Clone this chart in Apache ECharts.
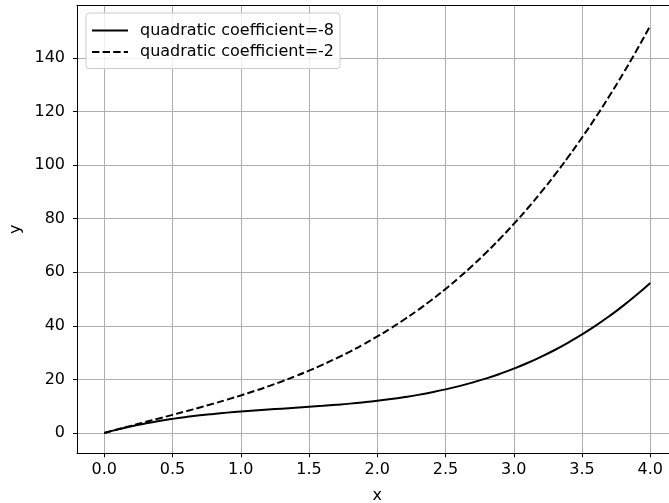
<!DOCTYPE html>
<html>
<head>
<meta charset="utf-8">
<script src="https://cdn.jsdelivr.net/npm/echarts@6/dist/echarts.min.js"></script>
<style>
  html, body { margin: 0; padding: 0; background: #fff; overflow: hidden; }
  #chart { width: 700px; height: 503px; }
</style>
</head>
<body>
<div id="chart"></div>
<script>
// Sample positions along x
const xs = [0.0, 0.1, 0.2, 0.3, 0.4, 0.5, 0.6, 0.7, 0.8, 0.9,
            1.0, 1.1, 1.2, 1.3, 1.4, 1.5, 1.6, 1.7, 1.8, 1.9,
            2.0, 2.1, 2.2, 2.3, 2.4, 2.5, 2.6, 2.7, 2.8, 2.9,
            3.0, 3.1, 3.2, 3.3, 3.4, 3.5, 3.6, 3.7, 3.8, 3.9, 4.0];

// Curve with quadratic coefficient -8
const ySolid = [0.0, 1.32, 2.50, 3.53, 4.45, 5.25, 5.95, 6.57, 7.10, 7.58,
                8.00, 8.38, 8.74, 9.07, 9.41, 9.75, 10.11, 10.51, 10.94, 11.44,
                12.00, 12.64, 13.38, 14.21, 15.17, 16.25, 17.47, 18.85, 20.38, 22.10,
                24.00, 26.10, 28.42, 30.95, 33.73, 36.75, 40.03, 43.59, 47.42, 51.56, 56.00];

// Curve with quadratic coefficient -2
const yDashed = [0.0, 1.38, 2.74, 4.07, 5.41, 6.75, 8.11, 9.51, 10.94, 12.44,
                 14.00, 15.64, 17.38, 19.21, 21.17, 23.25, 25.47, 27.85, 30.38, 33.10,
                 36.00, 39.10, 42.42, 45.95, 49.73, 53.75, 58.03, 62.59, 67.42, 72.56,
                 78.00, 83.76, 89.86, 96.29, 103.09, 110.25, 117.79, 125.73, 134.06, 142.82, 152.00];

const seriesNames = ['quadratic coefficient=-8', 'quadratic coefficient=-2'];
const xTicks = [0, 0.5, 1, 1.5, 2, 2.5, 3, 3.5, 4];
const yTicks = [0, 20, 40, 60, 80, 100, 120, 140];

const FONT = 'DejaVu Sans';
const FS = 16;
const GRID_COLOR = '#b0b0b0';
const pairs = (ys) => xs.map((x, i) => [x, ys[i]]);

const chart = echarts.init(document.getElementById('chart'), null, { renderer: 'canvas' });

chart.setOption({
  animation: false,
  backgroundColor: '#fff',
  textStyle: { fontFamily: FONT },
  grid: {
    left: 77, top: 5.3, width: 600.6, height: 448,
    outerBoundsMode: 'none', containLabel: false, show: false
  },
  legend: {
    orient: 'vertical',
    left: 86, top: 13, z: 20,
    itemWidth: 36, itemHeight: 14, itemGap: 4.5,
    padding: [9, 6, 8, 5],
    borderColor: '#cccccc', borderWidth: 1, borderRadius: 3,
    backgroundColor: 'rgba(255,255,255,0.8)',
    itemStyle: { opacity: 0 },
    textStyle: { fontFamily: FONT, fontSize: FS, lineHeight: 17, color: '#000', padding: [0, 0, 0, 7] },
    data: seriesNames
  },
  xAxis: [
    {
      type: 'value', min: -0.2, max: 4.2,
      name: 'x', nameLocation: 'middle', nameGap: 35,
      nameTextStyle: { fontFamily: FONT, fontSize: FS, color: '#000' },
      axisLine: { show: true, onZero: false, lineStyle: { color: '#000', width: 1 } },
      axisTick: { show: true, length: 4, lineStyle: { color: '#000', width: 1 },
                  customValues: xTicks },
      axisLabel: {
        fontFamily: FONT, fontSize: FS, color: '#000', margin: 9,
        customValues: xTicks,
        formatter: (v) => v.toFixed(1)
      },
      splitLine: { show: false }
    },
    {
      // top spine
      type: 'value', position: 'top', min: -0.2, max: 4.2,
      axisLine: { show: true, onZero: false, lineStyle: { color: '#000', width: 1 } },
      axisTick: { show: false }, axisLabel: { show: false }, splitLine: { show: false }
    }
  ],
  yAxis: {
    type: 'value', min: -7.6, max: 159.6,
    name: 'y', nameLocation: 'middle', nameGap: 41,
    nameTextStyle: { fontFamily: FONT, fontSize: FS, color: '#000' },
    axisLine: { show: true, onZero: false, lineStyle: { color: '#000', width: 1 } },
    axisTick: { show: true, length: 4, lineStyle: { color: '#000', width: 1 },
                customValues: yTicks },
    axisLabel: {
      fontFamily: FONT, fontSize: FS, color: '#000', margin: 12,
      customValues: yTicks
    },
    splitLine: { show: false }
  },
  series: [
    {
      // grid lines at labelled ticks
      type: 'line', silent: true, data: [], z: 0,
      markLine: {
        silent: true, symbol: 'none', label: { show: false }, z: 0,
        lineStyle: { color: GRID_COLOR, width: 1, type: 'solid' },
        data: yTicks.map(v => ({ yAxis: v })).concat(xTicks.map(v => ({ xAxis: v })))
      }
    },
    {
      name: seriesNames[0], type: 'line', data: pairs(ySolid),
      showSymbol: false, symbol: 'none', smooth: true,
      lineStyle: { color: '#000', width: 2 },
      itemStyle: { color: '#000' }
    },
    {
      name: seriesNames[1], type: 'line', data: pairs(yDashed),
      showSymbol: false, symbol: 'none', smooth: true,
      lineStyle: { color: '#000', width: 2, type: [7.4, 3.2] },
      itemStyle: { color: '#000' }
    }
  ]
});
</script>
</body>
</html>
